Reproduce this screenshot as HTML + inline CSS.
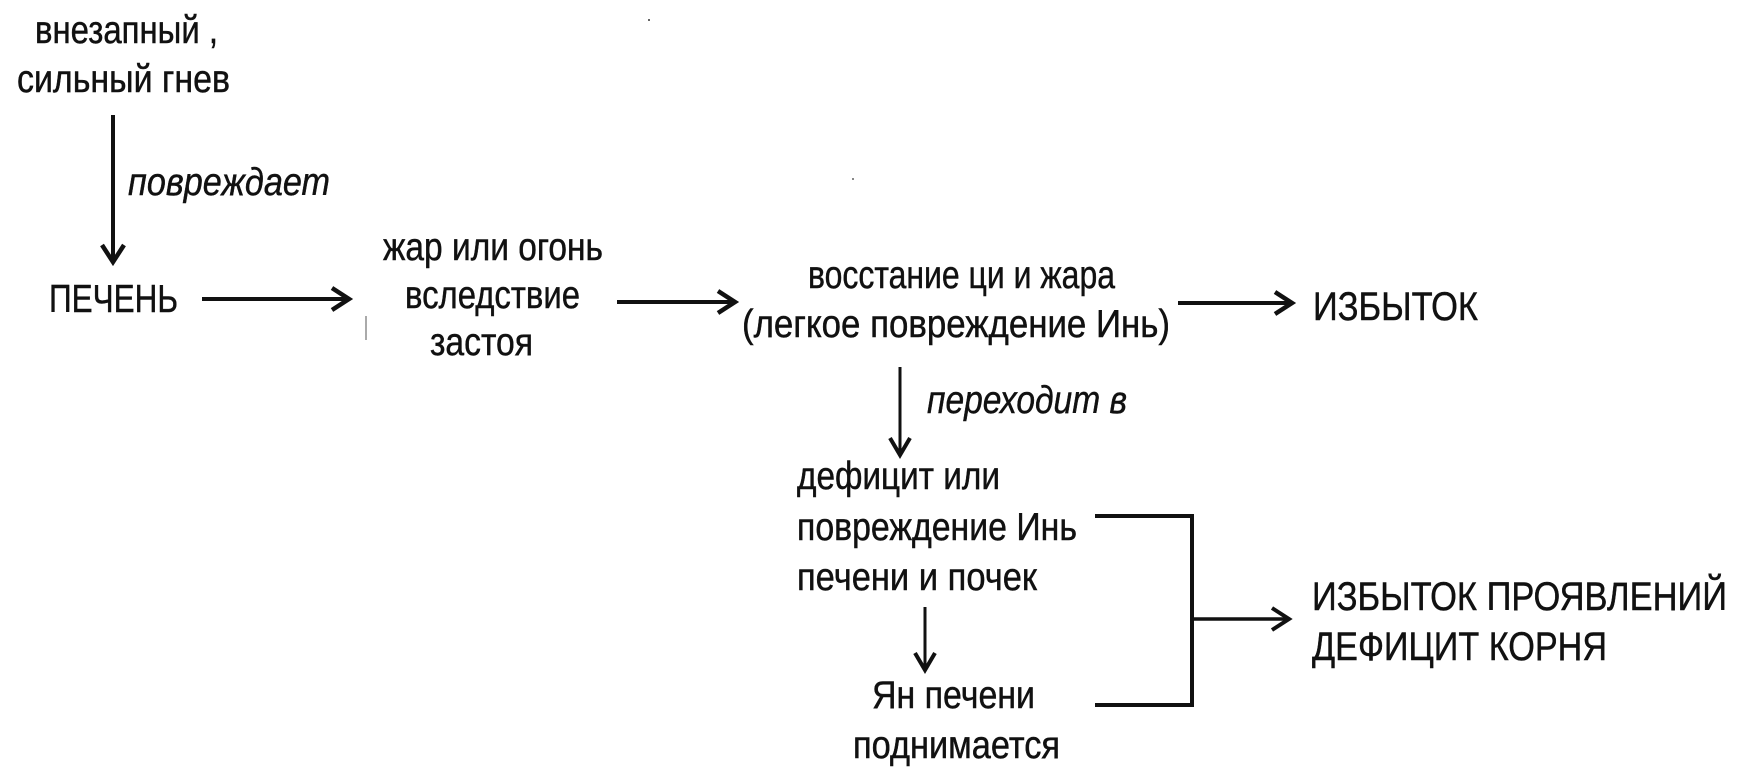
<!DOCTYPE html>
<html>
<head>
<meta charset="utf-8">
<style>
  html, body { margin: 0; padding: 0; background: #fff; }
  svg { display: block; }
  text { font-family: "Liberation Sans Narrow", "Liberation Sans", "DejaVu Sans", sans-serif; fill: #111; stroke: #111; stroke-width: 0.45; }
  .n { font-size: 39px; }
  .c { font-size: 40px; }
  .i { font-size: 39px; font-style: italic; }
  .ln { stroke: #111; fill: none; stroke-linecap: butt; stroke-linejoin: miter; }
</style>
</head>
<body>
<svg width="1746" height="778" viewBox="0 0 1746 778" xmlns="http://www.w3.org/2000/svg">
  <rect width="1746" height="778" fill="#fff"/>

  <!-- texts -->
  <text class="n" x="35" y="43" textLength="183" lengthAdjust="spacingAndGlyphs">внезапный ,</text>
  <text class="n" x="17" y="92" textLength="213" lengthAdjust="spacingAndGlyphs">сильный гнев</text>
  <text class="i" x="128" y="195" textLength="202" lengthAdjust="spacingAndGlyphs">повреждает</text>
  <text class="n" x="49" y="312" textLength="129" lengthAdjust="spacingAndGlyphs">ПЕЧЕНЬ</text>

  <text class="n" x="383" y="260" textLength="220" lengthAdjust="spacingAndGlyphs">жар или огонь</text>
  <text class="n" x="405" y="308" textLength="175" lengthAdjust="spacingAndGlyphs">вследствие</text>
  <text class="n" x="430" y="355" textLength="103" lengthAdjust="spacingAndGlyphs">застоя</text>

  <text class="n" x="808" y="288" textLength="307" lengthAdjust="spacingAndGlyphs">восстание ци и жара</text>
  <text class="n" x="742" y="337" textLength="428" lengthAdjust="spacingAndGlyphs">(легкое повреждение Инь)</text>

  <text class="c" x="1313" y="320" textLength="165" lengthAdjust="spacingAndGlyphs">ИЗБЫТОК</text>

  <text class="i" x="927" y="413" textLength="200" lengthAdjust="spacingAndGlyphs">переходит в</text>

  <text class="n" x="797" y="489" textLength="203" lengthAdjust="spacingAndGlyphs">дефицит или</text>
  <text class="n" x="797" y="540" textLength="280" lengthAdjust="spacingAndGlyphs">повреждение Инь</text>
  <text class="n" x="797" y="590" textLength="240" lengthAdjust="spacingAndGlyphs">печени и почек</text>
  <text class="n" x="872" y="708" textLength="163" lengthAdjust="spacingAndGlyphs">Ян печени</text>
  <text class="n" x="853" y="758" textLength="207" lengthAdjust="spacingAndGlyphs">поднимается</text>

  <text class="c" x="1312" y="610" textLength="415" lengthAdjust="spacingAndGlyphs">ИЗБЫТОК ПРОЯВЛЕНИЙ</text>
  <text class="c" x="1312" y="660" textLength="295" lengthAdjust="spacingAndGlyphs">ДЕФИЦИТ КОРНЯ</text>

  <!-- arrows -->
  <g class="ln" stroke-width="4">
    <!-- vertical 1 -->
    <line x1="113" y1="115" x2="113" y2="260"/>
    <polyline points="102,245 113,262 124,245" stroke-width="4.5"/>
    <!-- ПЕЧЕНЬ -> жар -->
    <line x1="202" y1="299" x2="348" y2="299"/>
    <polyline points="332,288 349,299 332,310" stroke-width="4.5"/>
    <!-- застоя -> восстание -->
    <line x1="617" y1="302" x2="733" y2="302"/>
    <polyline points="718,291 735,302 718,313" stroke-width="4.5"/>
    <!-- -> ИЗБЫТОК -->
    <line x1="1178" y1="303" x2="1291" y2="303"/>
    <polyline points="1275,292 1292,303 1275,314" stroke-width="4.5"/>
    <!-- bracket -->
    <polyline points="1095,516 1192,516 1192,705 1095,705"/>
  </g>
  <g class="ln" stroke-width="3.5">
    <!-- bracket -> ИЗБЫТОК ПРОЯВЛЕНИЙ -->
    <line x1="1192" y1="619" x2="1288" y2="619"/>
    <polyline points="1272,608 1289,619 1272,630" stroke-width="4"/>
  </g>
  <g class="ln" stroke-width="3">
    <!-- переходит в -->
    <line x1="900" y1="367" x2="900" y2="453"/>
    <polyline points="890,438 900,455 910,438" stroke-width="4"/>
    <!-- печени и почек -> Ян печени -->
    <line x1="925" y1="607" x2="925" y2="668"/>
    <polyline points="915,653 925,670 935,653" stroke-width="4"/>
  </g>

  <!-- stray scan marks -->
  <line x1="366" y1="316" x2="366" y2="340" stroke="#555" stroke-width="1"/>
  <rect x="648" y="19" width="2" height="2" fill="#666"/>
  <rect x="852" y="178" width="2" height="2" fill="#888"/>
</svg>
</body>
</html>
